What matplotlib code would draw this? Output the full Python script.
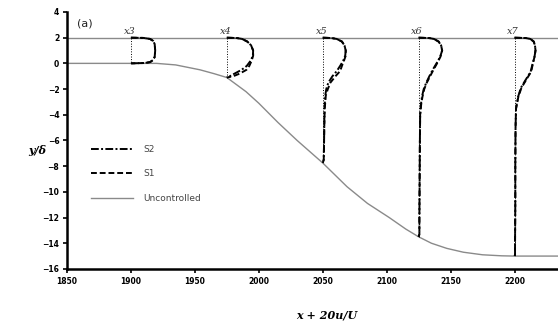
import numpy as np
import matplotlib.pyplot as plt
from matplotlib.lines import Line2D

# Uncontrolled lower wall (x, y/delta)
wall_x = [1850, 1900, 1920, 1935, 1954, 1965, 1975, 1990, 2000, 2015, 2030, 2050,
          2069, 2085, 2102, 2115, 2125, 2135, 2147, 2160, 2175, 2190, 2200, 2240]
wall_y = [0, 0, 0, -0.12, -0.5, -0.8, -1.1, -2.2, -3.1, -4.6, -6.0, -7.75,
          -9.6, -10.9, -12.0, -12.9, -13.5, -14.0, -14.4, -14.7, -14.9, -14.98, -15.0, -15.0]

stations = [1900, 1975, 2050, 2125, 2200]
station_names = ["x3", "x4", "x5", "x6", "x7"]
floor_y = [0, -1.1, -7.75, -13.5, -15.0]

# velocity profiles u/U at each station (y values and u values)
prof_y = [
    [2.0, 1.98, 1.9, 1.75, 1.5, 1.0, 0.5, 0.25, 0.1, 0.03, 0.0],
    [2.0, 1.97, 1.9, 1.7, 1.4, 1.0, 0.6, 0.2, -0.2, -0.5, -0.8, -1.0, -1.1],
    [2.0, 1.97, 1.9, 1.7, 1.4, 1.0, 0.6, 0.2, -0.2, -0.6, -1.0, -1.5, -2.0, -2.5, -3.5, -5.0, -6.5, -7.5, -7.75],
    [2.0, 1.97, 1.9, 1.7, 1.4, 1.0, 0.5, 0.0, -0.5, -1.0, -1.5, -2.0, -2.6, -3.2, -4.0, -6.0, -9.0, -12.0, -13.3, -13.5],
    [2.0, 1.97, 1.9, 1.7, 1.4, 1.0, 0.5, 0.0, -0.65, -1.3, -1.9, -2.6, -3.5, -5.0, -8.0, -11.0, -14.0, -14.9, -15.0],
]
s1_u = [
    [0, 0.5, 0.75, 0.87, 0.93, 0.95, 0.93, 0.86, 0.75, 0.55, 0],
    [0, 0.4, 0.6, 0.8, 0.95, 1.03, 1.03, 0.97, 0.88, 0.77, 0.5, 0.25, 0],
    [0, 0.35, 0.55, 0.75, 0.85, 0.9, 0.9, 0.83, 0.75, 0.68, 0.5, 0.3, 0.2, 0.12, 0.08, 0.06, 0.05, 0.04, 0],
    [0, 0.42, 0.6, 0.78, 0.88, 0.92, 0.85, 0.72, 0.58, 0.45, 0.32, 0.22, 0.15, 0.1, 0.06, 0.05, 0.04, 0.03, 0.03, 0],
    [0, 0.45, 0.62, 0.75, 0.8, 0.82, 0.78, 0.72, 0.65, 0.45, 0.27, 0.15, 0.06, 0.04, 0.03, 0.03, 0.02, 0.02, 0],
]
s2_u = [
    [0, 0.5, 0.75, 0.87, 0.93, 0.95, 0.93, 0.86, 0.75, 0.55, 0],
    [0, 0.4, 0.6, 0.8, 0.95, 1.03, 1.02, 0.93, 0.78, 0.58, 0.3, 0.12, 0],
    [0, 0.35, 0.55, 0.75, 0.85, 0.9, 0.88, 0.8, 0.68, 0.55, 0.38, 0.22, 0.14, 0.1, 0.07, 0.06, 0.05, 0.04, 0],
    [0, 0.42, 0.6, 0.78, 0.88, 0.92, 0.84, 0.7, 0.55, 0.42, 0.3, 0.2, 0.13, 0.09, 0.06, 0.05, 0.04, 0.03, 0.03, 0],
    [0, 0.45, 0.62, 0.75, 0.8, 0.82, 0.78, 0.71, 0.63, 0.43, 0.25, 0.14, 0.06, 0.04, 0.03, 0.03, 0.02, 0.02, 0],
]

fig = plt.figure(figsize=(5.58, 3.24), dpi=100)
ax = fig.add_axes([0.120, 0.170, 0.880, 0.793])

gray = "#8a8a8a"
s1_style = (0, (3, 1.5))
s2_style = (0, (4, 1.2, 1, 1.2))

# channel walls
ax.axhline(2, color=gray, lw=1.0, zorder=1)
ax.plot(wall_x, wall_y, color=gray, lw=1.0, zorder=1)

for i, xs in enumerate(stations):
    ax.plot([xs, xs], [2, floor_y[i]], color="black", lw=0.7, ls=":", zorder=2)
    y = np.array(prof_y[i])
    ax.plot(xs + 20 * np.array(s1_u[i]), y, color="black", lw=1.4, ls=s1_style, zorder=3)
    ax.plot(xs + 20 * np.array(s2_u[i]), y, color="black", lw=1.4, ls=s2_style, zorder=3)
    ax.text(xs - 1, 2.1, station_names[i], fontsize=7, family="DejaVu Serif",
            style="italic", color="#333333", ha="center", va="bottom")

ax.text(1858, 3.1, "(a)", fontsize=8, ha="left", va="center", color="#222222")

ax.set_xlim(1850, 2234)
ax.set_ylim(-16, 4)
ax.set_xticks(np.arange(1850, 2201, 50))
ax.set_yticks(np.arange(-16, 5, 2))
ax.tick_params(labelsize=5.5, length=3, width=1.2, direction="out", pad=2.5)
for lab in ax.get_xticklabels() + ax.get_yticklabels():
    lab.set_fontweight("bold")
ax.spines["top"].set_visible(False)
ax.spines["right"].set_visible(False)
ax.spines["left"].set_linewidth(1.8)
ax.spines["bottom"].set_linewidth(1.8)

handles = [
    Line2D([], [], color="black", lw=1.4, ls=s2_style),
    Line2D([], [], color="black", lw=1.4, ls=s1_style),
    Line2D([], [], color=gray, lw=1.0),
]
ax.legend(handles, ["S2", "S1", "Uncontrolled"], loc="upper left",
          bbox_to_anchor=(0.04, 0.50), frameon=False, fontsize=6.5,
          handlelength=4.6, labelspacing=1.7, handletextpad=1.2, borderpad=0,
          labelcolor="#444444")

fig.text(37 / 558, 1 - 150 / 324, "y/δ", fontsize=8, family="DejaVu Serif",
         style="italic", weight="bold", ha="center", va="center")
fig.text(327 / 558, 1 - 315 / 324, "x + 20u/U", fontsize=8, family="DejaVu Serif",
         style="italic", weight="bold", ha="center", va="center")

fig.savefig("out.png", dpi=100)
